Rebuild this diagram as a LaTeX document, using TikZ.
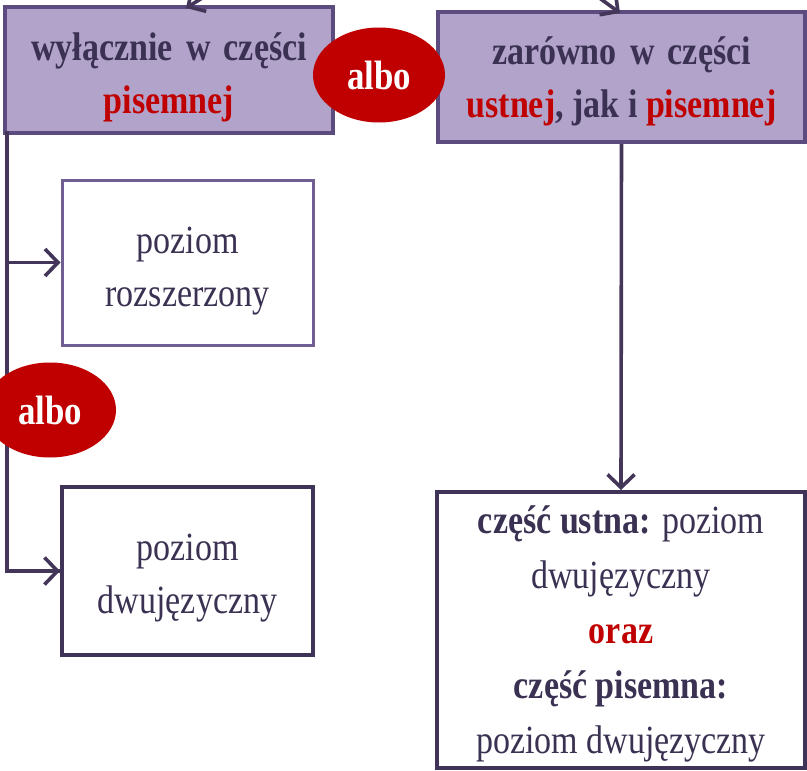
\documentclass[tikz,border=0pt]{standalone}
\usepackage{fontspec}
\setmainfont{Liberation Serif}[FakeStretch=0.85]
\usetikzlibrary{arrows.meta,shapes.geometric}
\definecolor{boxfill}{HTML}{B1A3CA}
\definecolor{boxline}{HTML}{5B4B7E}
\definecolor{lightline}{HTML}{6F5F92}
\definecolor{darkline}{HTML}{3F3458}
\definecolor{txt}{HTML}{3B3152}
\definecolor{redtxt}{HTML}{C00000}
\definecolor{conncol}{HTML}{433659}
\tikzset{
  bigfont/.style={font=\fontsize{40}{53}\selectfont},
  purplebox/.style={draw=boxline, line width=4pt, fill=boxfill, inner sep=0pt},
  lightbox/.style={draw=lightline, line width=3pt, fill=white, inner sep=0pt},
  darkbox/.style={draw=darkline, line width=4pt, fill=white, inner sep=0pt},
  boxtext/.style={align=center, bigfont, text=txt, inner sep=0pt},
  albonode/.style={ellipse, fill=redtxt, text=white, inner sep=0pt, minimum width=132pt, minimum height=95pt, font=\fontsize{41}{46}\selectfont\bfseries},
  linkline/.style={draw=conncol, line width=3.6pt},
  arrline/.style={linkline, -{Straight Barb[length=13pt,width=27pt,line width=3.6pt]}}
}
\begin{document}
\begin{tikzpicture}[x=1pt,y=-1pt]
\useasboundingbox (0,0) rectangle (807,771);

% boxes
\node[purplebox, minimum width=328pt, minimum height=126pt] (L) at (169,70) {};
\node[purplebox, minimum width=367pt, minimum height=130pt] (R) at (621.5,77) {};
\node[lightbox, minimum width=251pt, minimum height=165pt] (B1) at (187.5,262.5) {};
\node[darkbox, minimum width=251pt, minimum height=168pt] (B2) at (187.5,571) {};
\node[darkbox, minimum width=368pt, minimum height=276pt] (BR) at (621,630) {};

% texts
\node[boxtext] (Lt) at ([yshift=-7pt]L.center)
  {\bfseries wyłącznie\hspace{.12em} w\hspace{.12em} części\\ \bfseries\textcolor{redtxt}{pisemnej}};
\node[boxtext] (Rt) at ([yshift=-4pt]R.center)
  {\bfseries zarówno\hspace{.12em} w\hspace{.12em} części\\ \bfseries\textcolor{redtxt}{ustnej}, jak i \textcolor{redtxt}{pisemnej}};
\node[boxtext] (B1t) at ([yshift=-9pt]B1.center) {poziom\\ rozszerzony};
\node[boxtext] (B2t) at ([yshift=-7pt]B2.center) {poziom\\ dwujęzyczny};
\node[boxtext, font=\fontsize{40}{55}\selectfont] (BRt) at ([yshift=-4pt]BR.center)
  {\textbf{część ustna:} poziom\\ dwujęzyczny\\ \textbf{\textcolor{redtxt}{oraz}}\\ \textbf{część pisemna:}\\ poziom dwujęzyczny};

% top incoming arrows
\coordinate (sL) at (212,-8);
\coordinate (tL) at (186,8);
\coordinate (sR) at (594,-6);
\coordinate (tR) at (620,13);
\draw[arrline] (sL) -- (tL);
\draw[arrline] (sR) -- (tR);

% left branch
\coordinate (v0) at (7,131);
\draw[linkline] (v0) |- (B2.west);
\draw[arrline] (v0 |- B1.west) -- (B1.west);
\draw[arrline] (v0 |- B2.west) -- (B2.west);

% right arrow
\draw[arrline] (R.south) -- (BR.north);

% albo ellipses
\node[albonode] (A1) at (379,75) {albo};
\node[albonode] (A2) at (50,410) {albo};
\end{tikzpicture}
\end{document}
